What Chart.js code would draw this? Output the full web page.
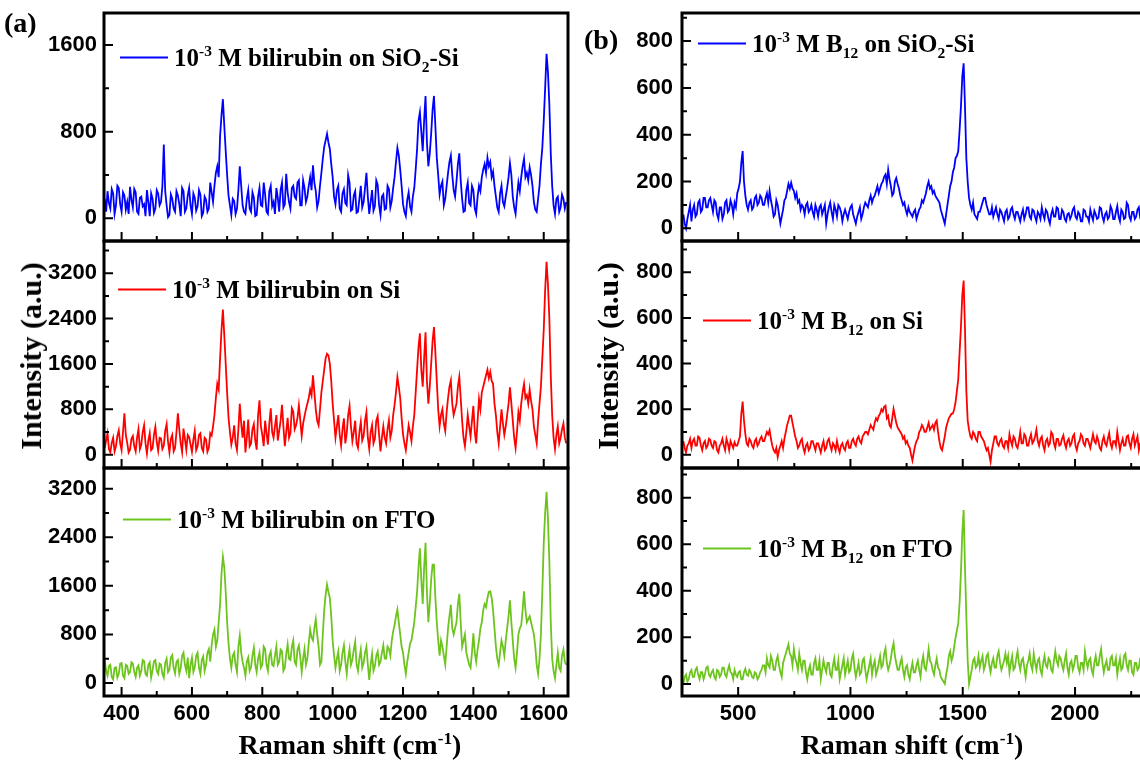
<!DOCTYPE html>
<html><head><meta charset="utf-8">
<script src="https://cdn.jsdelivr.net/npm/chart.js@4.4.0/dist/chart.umd.min.js"></script>
<style>
html,body{margin:0;padding:0;background:#fff;width:1140px;height:762px;overflow:hidden;}
#wrap{position:relative;width:1140px;height:762px;overflow:hidden;background:#fff;}
canvas{position:absolute;}
.t{position:absolute;font-family:"Liberation Serif","Times New Roman",serif;font-weight:bold;color:#000;white-space:nowrap;line-height:1;}
.leg{position:absolute;display:flex;align-items:center;font-family:"Liberation Serif","Times New Roman",serif;font-weight:bold;font-size:25px;white-space:nowrap;line-height:1;transform:translateY(-50%);color:#000;}
.leg i{display:inline-block;width:48px;height:0;border-top:2px solid;margin-right:6px;}
sup,sub{font-size:0.62em;line-height:0;}
</style></head>
<body><div id="wrap">
<canvas id="a1"></canvas><canvas id="a2"></canvas><canvas id="a3"></canvas>
<canvas id="b1"></canvas><canvas id="b2"></canvas><canvas id="b3"></canvas>
<div class="t" style="left:4px;top:23px;font-size:28px;transform:translateY(-50%);">(a)</div>
<div class="t" style="left:584px;top:40px;font-size:28px;transform:translateY(-50%);">(b)</div>
<div class="t" style="left:31px;top:356px;font-size:30px;transform:translate(-50%,-50%) rotate(-90deg);">Intensity (a.u.)</div>
<div class="t" style="left:608px;top:356px;font-size:30px;transform:translate(-50%,-50%) rotate(-90deg);">Intensity (a.u.)</div>
<div class="t" style="left:350px;top:745px;font-size:28px;transform:translate(-50%,-50%);">Raman shift (cm<sup>-1</sup>)</div>
<div class="t" style="left:912px;top:745px;font-size:28px;transform:translate(-50%,-50%);">Raman shift (cm<sup>-1</sup>)</div>
<div class="leg" style="left:120px;top:57px;"><i style="border-color:#0000ff"></i><span>10<sup>-3</sup> M bilirubin on SiO<sub>2</sub>-Si</span></div>
<div class="leg" style="left:118px;top:289px;"><i style="border-color:#ff0000"></i><span>10<sup>-3</sup> M bilirubin on Si</span></div>
<div class="leg" style="left:123px;top:519px;"><i style="border-color:#6ec41e"></i><span>10<sup>-3</sup> M bilirubin on FTO</span></div>
<div class="leg" style="left:698px;top:43px;"><i style="border-color:#0000ff"></i><span>10<sup>-3</sup> M B<sub>12</sub> on SiO<sub>2</sub>-Si</span></div>
<div class="leg" style="left:703px;top:320px;"><i style="border-color:#ff0000"></i><span>10<sup>-3</sup> M B<sub>12</sub> on Si</span></div>
<div class="leg" style="left:703px;top:548px;"><i style="border-color:#6ec41e"></i><span>10<sup>-3</sup> M B<sub>12</sub> on FTO</span></div>
</div>
<script>
// ---------- DATA ----------
// Raman shift (cm^-1), panel (a)
const shiftA = [352,356,360,364,368,372,376,380,384,388,392,396,400,404,408,412,416,420,424,428,
432,436,440,444,448,452,456,460,464,468,472,476,480,484,488,492,496,500,504,508,
512,516,520,524,528,532,536,540,544,548,552,556,560,564,568,572,576,580,584,588,
592,596,600,604,608,612,616,620,624,628,632,636,640,644,648,652,656,660,664,668,
672,676,680,684,688,692,696,700,704,708,712,716,720,724,728,732,736,740,744,748,
752,756,760,764,768,772,776,780,784,788,792,796,800,804,808,812,816,820,824,828,
832,836,840,844,848,852,856,860,864,868,872,876,880,884,888,892,896,900,904,908,
912,916,920,924,928,932,936,940,944,948,952,956,960,964,968,972,976,980,984,988,
992,996,1000,1004,1008,1012,1016,1020,1024,1028,1032,1036,1040,1044,1048,1052,1056,1060,1064,1068,
1072,1076,1080,1084,1088,1092,1096,1100,1104,1108,1112,1116,1120,1124,1128,1132,1136,1140,1144,1148,
1152,1156,1160,1164,1168,1172,1176,1180,1184,1188,1192,1196,1200,1204,1208,1212,1216,1220,1224,1228,
1232,1236,1240,1244,1248,1252,1256,1260,1264,1268,1272,1276,1280,1284,1288,1292,1296,1300,1304,1308,
1312,1316,1320,1324,1328,1332,1336,1340,1344,1348,1352,1356,1360,1364,1368,1372,1376,1380,1384,1388,
1392,1396,1400,1404,1408,1412,1416,1420,1424,1428,1432,1436,1440,1444,1448,1452,1456,1460,1464,1468,
1472,1476,1480,1484,1488,1492,1496,1500,1504,1508,1512,1516,1520,1524,1528,1532,1536,1540,1544,1548,
1552,1556,1560,1564,1568,1572,1576,1580,1584,1588,1592,1596,1600,1604,1608,1612,1616,1620,1624,1628,
1632,1636,1640,1644,1648,1652,1656,1660,1664];
const bilirubinSiO2Si = [180,60,250,140,90,270,230,40,120,300,280,130,60,240,210,80,150,40,290,170,
100,270,240,60,40,190,200,110,130,20,260,150,20,230,180,50,90,260,230,120,
150,300,680,250,120,10,30,220,180,90,60,250,210,130,20,280,250,60,90,210,
280,120,40,230,190,70,110,260,220,20,50,200,170,60,90,330,240,150,300,420,
480,380,760,950,1100,850,620,400,210,120,30,180,160,40,90,260,480,300,120,60,
40,180,260,90,60,240,190,20,30,200,280,120,110,330,220,60,40,250,300,110,
150,40,280,190,60,260,330,100,130,410,240,150,90,280,300,200,180,330,350,120,
120,350,280,150,200,300,380,260,490,330,250,100,160,300,420,550,660,720,780,700,
640,500,380,200,130,260,300,90,60,230,270,140,120,400,330,70,80,210,250,50,
60,180,300,100,150,280,420,200,40,150,260,70,110,350,310,120,30,200,220,80,
90,300,270,100,160,280,380,520,650,580,450,300,130,60,20,170,240,110,60,200,
280,450,640,900,980,800,620,900,1130,700,480,600,780,1000,1130,850,560,400,220,300,
340,120,180,300,420,520,580,400,260,200,340,500,600,350,180,60,70,260,330,140,
120,300,260,90,40,200,300,250,380,450,500,420,560,480,520,380,430,300,200,100,
60,230,300,150,110,200,280,380,510,400,200,100,40,200,330,250,380,480,550,380,
420,350,470,400,300,150,80,60,180,300,500,650,900,1200,1520,1350,1050,600,300,120,
40,180,200,60,100,220,180,90,150];
const bilirubinSi = [120,250,380,100,40,210,300,60,150,330,430,200,80,400,730,350,210,40,90,280,
330,150,60,300,450,100,180,400,520,200,20,250,380,80,110,350,490,220,70,300,
290,100,160,420,540,230,40,280,350,60,120,400,730,450,200,50,460,280,90,350,
310,180,50,260,420,80,150,350,380,120,60,300,270,50,120,380,340,500,700,1000,
1250,1150,1700,2200,2560,2100,1600,1100,650,400,180,300,520,200,80,450,900,550,300,600,
40,300,620,150,200,450,540,250,90,700,960,500,350,150,600,380,180,550,820,400,
300,500,700,250,420,600,880,500,150,400,650,300,380,820,760,450,520,650,870,600,
330,550,680,800,900,1000,1150,1050,1400,1100,800,600,520,800,1100,1300,1500,1700,1780,1750,
1600,1300,900,600,300,500,700,350,160,450,640,200,380,700,860,500,240,400,600,200,
120,400,580,250,330,600,750,300,100,400,520,200,280,600,680,350,60,300,500,300,
200,450,610,300,420,700,880,1100,1370,1200,1000,650,360,200,80,300,520,400,240,500,
700,1100,1500,1900,2140,1500,1200,1700,2160,1300,900,1200,1600,2000,2250,1800,1300,800,500,700,
800,550,420,750,1000,1200,1310,900,700,800,900,1200,1370,1000,600,300,150,400,700,500,
320,600,860,400,200,600,980,800,1100,1200,1300,1400,1500,1350,1460,1300,1250,900,700,400,
200,500,800,550,350,500,700,900,1190,900,600,300,120,400,750,600,900,1100,1250,1000,
1050,900,1150,950,800,500,350,200,600,900,1200,1700,2200,2900,3400,3000,2400,1400,700,300,
100,350,500,200,300,450,550,300,200];
const bilirubinFTO = [380,200,120,280,300,100,60,250,260,90,150,320,330,120,80,300,280,150,180,340,
320,180,100,250,290,120,200,380,360,150,120,300,340,90,210,360,380,200,150,320,
300,150,90,330,400,180,220,420,460,250,160,350,380,150,240,450,500,300,200,420,
80,300,420,180,260,450,500,250,150,380,440,200,300,500,560,350,620,800,880,600,
700,1000,1300,1800,2080,1900,1500,1000,650,400,250,450,500,300,180,600,780,500,350,250,
120,350,420,200,260,450,580,300,180,400,500,250,300,600,560,300,200,450,520,300,
280,450,600,300,350,550,520,200,250,480,640,400,380,600,700,350,300,550,620,420,
180,400,560,300,400,650,880,750,700,900,1050,800,600,300,350,800,1200,1450,1620,1500,
1400,1100,700,450,250,400,520,200,300,500,620,350,150,400,560,300,380,550,680,300,
200,400,550,250,330,500,600,300,50,300,480,200,280,450,520,300,350,500,620,400,
400,600,560,450,700,850,950,1100,1210,1000,800,600,500,300,150,350,500,650,700,850,
1000,1250,1500,1900,2220,1700,1300,1900,2310,1500,1000,1300,1700,1950,1950,1400,1000,700,450,700,
600,450,300,600,900,1100,1290,900,800,900,1000,1300,1470,1000,600,700,800,500,400,300,
250,500,820,500,350,550,700,900,1000,1200,1300,1250,1400,1500,1510,1400,1200,900,600,400,
300,500,700,600,450,700,900,1100,1360,1000,700,400,250,500,800,900,950,1200,1510,1200,
1000,1050,1100,1000,900,800,600,300,150,400,800,1500,2300,2800,3150,2700,2000,1000,400,200,
80,300,500,250,200,450,550,350,300];

// Raman shift (cm^-1), panel (b)
const shiftB = [256,262,268,274,280,286,292,298,304,310,316,322,328,334,340,346,352,358,364,370,
376,382,388,394,400,406,412,418,424,430,436,442,448,454,460,466,472,478,484,490,
496,502,508,514,520,526,532,538,544,550,556,562,568,574,580,586,592,598,604,610,
616,622,628,634,640,646,652,658,664,670,676,682,688,694,700,706,712,718,724,730,
736,742,748,754,760,766,772,778,784,790,796,802,808,814,820,826,832,838,844,850,
856,862,868,874,880,886,892,898,904,910,916,922,928,934,940,946,952,958,964,970,
976,982,988,994,1000,1006,1012,1018,1024,1030,1036,1042,1048,1054,1060,1066,1072,1078,1084,1090,
1096,1102,1108,1114,1120,1126,1132,1138,1144,1150,1156,1162,1168,1174,1180,1186,1192,1198,1204,1210,
1216,1222,1228,1234,1240,1246,1252,1258,1264,1270,1276,1282,1288,1294,1300,1306,1312,1318,1324,1330,
1336,1342,1348,1354,1360,1366,1372,1378,1384,1390,1396,1402,1408,1414,1420,1426,1432,1438,1444,1450,
1456,1462,1468,1474,1480,1486,1492,1498,1504,1510,1516,1522,1528,1534,1540,1546,1552,1558,1564,1570,
1576,1582,1588,1594,1600,1606,1612,1618,1624,1630,1636,1642,1648,1654,1660,1666,1672,1678,1684,1690,
1696,1702,1708,1714,1720,1726,1732,1738,1744,1750,1756,1762,1768,1774,1780,1786,1792,1798,1804,1810,
1816,1822,1828,1834,1840,1846,1852,1858,1864,1870,1876,1882,1888,1894,1900,1906,1912,1918,1924,1930,
1936,1942,1948,1954,1960,1966,1972,1978,1984,1990,1996,2002,2008,2014,2020,2026,2032,2038,2044,2050,
2056,2062,2068,2074,2080,2086,2092,2098,2104,2110,2116,2122,2128,2134,2140,2146,2152,2158,2164,2170,
2176,2182,2188,2194,2200,2206,2212,2218,2224,2230,2236,2242,2248,2254,2260,2266,2272,2278,2284,2290,
2296,2302,2308,2314,2320,2326,2332];
const b12SiO2Si = [60,20,0,40,70,100,30,80,100,50,60,110,120,70,80,130,130,90,90,120,
130,100,70,120,110,60,40,90,90,40,60,110,120,70,80,120,100,60,110,90,
150,170,200,280,330,200,140,100,80,110,120,80,90,130,140,100,110,140,130,100,
100,130,150,110,160,120,90,50,60,120,100,60,20,50,80,120,130,160,190,170,
195,170,160,130,150,110,120,80,100,90,60,100,110,70,80,100,70,50,100,80,
50,90,100,60,80,100,20,60,90,110,70,40,100,80,50,100,90,70,30,60,
80,60,40,70,90,100,60,40,20,50,70,90,40,60,90,110,100,90,120,140,
110,130,140,160,180,150,170,190,200,220,230,190,250,210,180,140,150,200,215,190,
170,140,120,100,110,80,60,90,70,60,50,70,80,40,60,80,90,120,110,130,
150,180,200,170,180,150,160,140,130,120,110,80,60,40,20,60,100,140,180,200,
240,260,300,310,330,420,520,650,705,520,300,200,130,100,80,110,60,50,40,70,
70,90,110,130,130,100,80,60,60,90,50,70,90,60,40,80,70,50,30,70,
80,40,50,80,90,60,40,70,70,50,30,60,80,40,60,90,90,50,40,80,
75,50,30,70,60,40,90,60,40,80,70,40,20,60,80,50,50,90,85,40,
40,80,70,40,30,60,65,40,55,80,90,50,40,70,60,30,30,80,75,50,
50,30,80,55,35,75,60,40,45,90,85,50,30,60,70,40,50,95,80,40,
40,70,95,50,30,80,70,40,45,110,100,50,35,70,70,40,50,80,90,45,
30,60,80,40,50,90,70];
const b12Si = [60,30,10,40,50,70,30,60,70,40,40,80,75,40,20,50,60,30,40,70,
65,40,30,60,55,20,10,40,50,70,40,20,70,50,20,60,45,30,55,40,
40,60,80,180,233,150,90,50,40,70,60,40,30,60,70,40,50,70,80,60,
60,80,100,90,108,70,40,20,10,30,-10,20,40,60,30,70,100,130,150,172,
172,140,110,80,60,30,40,60,70,30,10,40,50,20,30,60,60,40,20,50,
50,30,10,40,60,20,30,60,70,40,20,50,40,20,60,30,10,40,50,30,
20,50,60,30,30,60,70,50,40,70,80,60,50,80,90,100,100,90,110,130,
120,110,140,160,150,170,180,200,190,210,215,160,170,130,120,160,201,170,140,120,
110,100,90,70,80,50,60,40,30,0,-25,10,40,60,70,100,110,130,120,100,
100,120,140,110,120,130,110,140,150,100,60,30,20,50,80,120,140,160,170,180,
180,200,230,280,330,450,560,700,764,550,280,150,110,80,70,100,90,70,60,100,
100,80,70,60,40,20,30,0,-30,20,50,80,80,50,40,60,70,40,30,60,
60,30,90,60,40,80,70,40,30,60,100,50,50,90,80,40,40,70,90,50,
60,80,110,60,40,70,80,40,20,60,70,40,50,100,90,50,30,70,70,40,
45,70,85,50,30,60,70,40,50,80,90,40,20,50,60,90,80,50,40,70,
70,50,30,60,90,60,50,80,60,30,20,60,80,50,40,70,95,50,30,60,
60,40,100,60,20,50,70,40,40,80,85,50,30,70,90,40,60,80,20,50,
50,70,90,50,40,80,70];
const b12FTO = [0,30,40,10,20,50,60,30,30,60,70,40,20,50,50,20,40,70,75,40,
30,50,60,30,20,60,55,30,40,70,70,40,30,60,80,50,45,20,60,40,
30,50,55,20,20,50,65,40,35,60,50,30,25,50,45,20,30,50,60,80,
80,50,110,80,70,120,100,60,60,100,120,80,50,30,90,110,130,150,170,130,
120,80,150,110,90,60,130,90,60,100,100,50,20,60,80,40,40,90,110,60,
60,100,20,60,100,70,50,90,90,40,30,80,110,60,60,100,20,50,80,110,
40,70,100,50,60,110,130,70,30,60,90,40,50,100,110,60,20,50,80,110,
40,80,100,40,60,90,120,70,80,130,153,90,60,80,110,150,175,120,90,60,
60,90,110,60,30,70,80,40,20,60,90,50,50,80,100,60,30,90,120,70,
60,100,150,100,90,60,40,80,110,70,60,30,20,10,0,40,70,120,140,100,
120,160,200,230,260,350,480,650,747,500,290,100,0,30,60,100,110,70,80,120,
70,100,120,60,80,120,130,80,50,90,110,70,70,120,140,90,60,80,100,130,
90,120,50,90,120,60,70,110,140,90,60,100,110,70,30,80,100,130,80,60,
130,90,60,100,110,60,40,90,120,80,70,110,100,60,50,100,140,100,80,120,
110,80,60,100,130,70,40,90,100,60,80,120,120,70,50,90,90,60,140,100,
70,100,110,60,40,90,120,80,80,120,150,90,50,80,100,60,60,110,120,80,
80,110,40,80,110,60,70,120,130,80,60,100,100,50,40,90,90,60,70,110,
110,70,50,90,90,60,70];

// Tick values
const xTicksA = [400,600,800,1000,1200,1400,1600];
const xMinorA = [500,700,900,1100,1300,1500];
const xTicksB = [500,1000,1500,2000];
const xMinorB = [750,1250,1750,2250];
const yTicksA1 = [0,800,1600];
const yMinorA1 = [400,1200];
const yTicksA23 = [0,800,1600,2400,3200];
const yMinorA23 = [400,1200,2000,2800,3600];
const yTicksB = [0,200,400,600,800];
const yMinorB = [100,300,500,700,900];

// ---------- RENDER ----------
const BLUE = '#0000ff', RED = '#ff0000', GREEN = '#6ec41e';

const framePlugin = {
  id: 'frame',
  afterDatasetsDraw(chart, args, o) {
    const ctx = chart.ctx, a = chart.chartArea, xs = chart.scales.x, ys = chart.scales.y;
    ctx.save();
    ctx.strokeStyle = '#000';
    ctx.lineWidth = 2;
    ctx.beginPath();
    const xt = (vals, len) => vals.forEach(v => { if (v <= xs.min || v >= xs.max) return; const p = xs.getPixelForValue(v); ctx.moveTo(p, a.bottom); ctx.lineTo(p, a.bottom - len); });
    const yt = (vals, len) => vals.forEach(v => { if (v <= ys.min || v >= ys.max) return; const p = ys.getPixelForValue(v); ctx.moveTo(a.left, p); ctx.lineTo(a.left + len, p); });
    xt(o.xMajor, 9); xt(o.xMinor, 5); yt(o.yMajor, 9); yt(o.yMinor, 5);
    ctx.stroke();
    ctx.lineWidth = 3;
    ctx.strokeRect(a.left, a.top, a.right - a.left, a.bottom - a.top);
    ctx.restore();
  }
};

const tickFont = {family: '"Liberation Sans", Arial, sans-serif', weight: 'bold', size: 22};

function panel(p) {
  const cv = document.getElementById(p.id);
  cv.width = p.w; cv.height = p.h;
  cv.style.left = p.left + 'px'; cv.style.top = p.top + 'px';
  cv.style.width = p.w + 'px'; cv.style.height = p.h + 'px';
  const pts = p.xs.map((x, i) => ({x: x, y: p.ys[i]}));
  new Chart(cv, {
    type: 'line',
    data: {datasets: [{data: pts, borderColor: p.color, borderWidth: 1.8, pointRadius: 0, tension: 0, fill: false}]},
    options: {
      responsive: false, animation: false, events: [],
      layout: {padding: {left: 0, right: p.padR, top: 7, bottom: p.bottom ? 0 : 7}},
      plugins: {legend: {display: false}, tooltip: {enabled: false},
        frame: {xMajor: p.xMajor, xMinor: p.xMinor, yMajor: p.yMajor, yMinor: p.yMinor}},
      scales: {
        x: {type: 'linear', min: p.xmin, max: p.xmax,
            grid: {display: false, drawTicks: false}, border: {display: false},
            afterBuildTicks: s => { s.ticks = p.xMajor.map(v => ({value: v})); },
            afterFit: s => { s.height = p.bottom ? 66 : 0; s.paddingLeft = 0; s.paddingRight = 0; },
            ticks: {display: p.bottom, padding: 5, color: '#000', font: tickFont, maxRotation: 0, autoSkip: false, callback: v => String(v)}},
        y: {type: 'linear', min: p.ymin, max: p.ymax,
            grid: {display: false, drawTicks: false}, border: {display: false},
            afterBuildTicks: s => { s.ticks = p.yMajor.map(v => ({value: v})); },
            afterFit: s => { s.width = p.yw; s.paddingTop = 0; s.paddingBottom = 0; },
            ticks: {padding: p.yPad, color: '#000', font: tickFont, autoSkip: false, callback: v => String(v)}}
      }
    },
    plugins: [framePlugin]
  });
}

const common = {
  a: {left: 0, w: 580, padR: 12, yw: 104, yPad: 7, xmin: 350, xmax: 1669, xs: shiftA, xMajor: xTicksA, xMinor: xMinorA},
  b: {left: 580, w: 580, padR: 5, yw: 102, yPad: 9, xmin: 250, xmax: 2356, xs: shiftB, xMajor: xTicksB, xMinor: xMinorB}
};
const rows = [{top: 6, h: 242, bottom: false}, {top: 234, h: 241, bottom: false}, {top: 461, h: 301, bottom: true}];

panel(Object.assign({}, common.a, rows[0], {id: 'a1', ys: bilirubinSiO2Si, color: BLUE, ymin: -210, ymax: 1896, yMajor: yTicksA1, yMinor: yMinorA1}));
panel(Object.assign({}, common.a, rows[1], {id: 'a2', ys: bilirubinSi, color: RED, ymin: -234, ymax: 3768, yMajor: yTicksA23, yMinor: yMinorA23}));
panel(Object.assign({}, common.a, rows[2], {id: 'a3', ys: bilirubinFTO, color: GREEN, ymin: -214, ymax: 3541, yMajor: yTicksA23, yMinor: yMinorA23}));
panel(Object.assign({}, common.b, rows[0], {id: 'b1', ys: b12SiO2Si, color: BLUE, ymin: -54, ymax: 920, yMajor: yTicksB, yMinor: yMinorB}));
panel(Object.assign({}, common.b, rows[1], {id: 'b2', ys: b12Si, color: RED, ymin: -58, ymax: 937, yMajor: yTicksB, yMinor: yMinorB}));
panel(Object.assign({}, common.b, rows[2], {id: 'b3', ys: b12FTO, color: GREEN, ymin: -52, ymax: 928, yMajor: yTicksB, yMinor: yMinorB}));
</script>
</body></html>
